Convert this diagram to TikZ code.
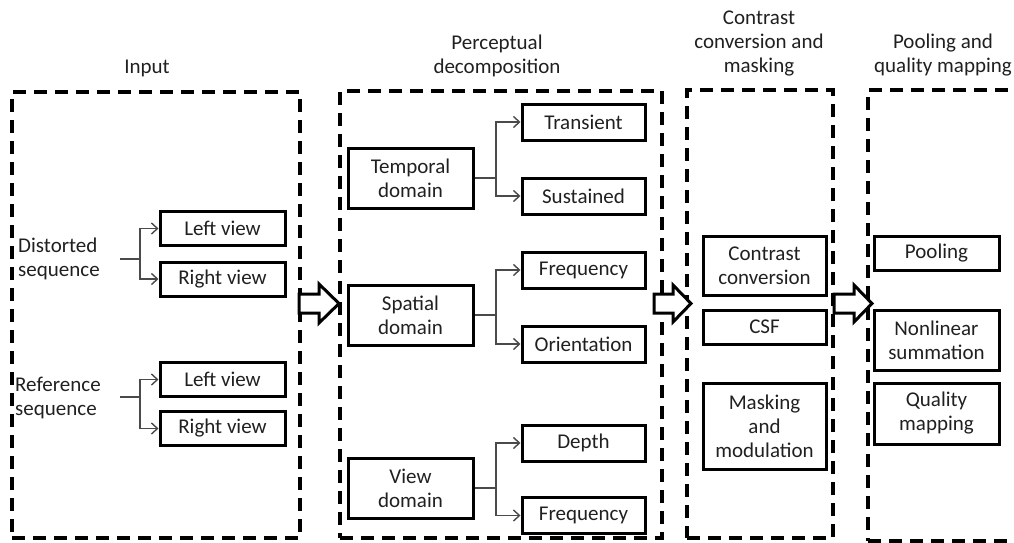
\documentclass[tikz,border=0pt]{standalone}
\usepackage{fontspec}
\setmainfont{Carlito}
\usetikzlibrary{arrows.meta}
\definecolor{txt}{HTML}{202020}
\definecolor{lnk}{HTML}{4a4a4a}
\tikzset{
  bx/.style={draw=black, line width=3pt, rectangle, inner sep=0pt, align=center, text=txt},
  grp/.style={draw=black, line width=3.4pt, dash pattern=on 13pt off 8pt, rectangle, inner sep=0pt},
  ttl/.style={align=center, text=txt, inner sep=0pt},
  lbl/.style={align=left, text=txt, inner sep=0pt},
  conn/.style={draw=lnk, line width=1.4pt},
  cona/.style={conn, -{Straight Barb[length=6pt,width=11pt,line width=1.4pt]}},
  blockarrow/.style={draw=black, line width=3pt, fill=white, line join=miter}
}
\begin{document}
\begin{tikzpicture}[x=1pt,y=-1pt, font=\fontsize{21}{24}\selectfont]
\useasboundingbox (0,0) rectangle (1014,543);
% group frames
\node[grp, minimum width=288, minimum height=446] (g1) at (156,315) {};
\node[grp, minimum width=322, minimum height=447] (g2) at (501,314.5) {};
\node[grp, minimum width=146, minimum height=448] (g3) at (760,314) {};
\node[grp, minimum width=170, minimum height=451] (g4) at (953,315.5) {};
% titles
\node[ttl] (t1) at (147,68) {Input};
\node[ttl] (t2) at (497,56) {Perceptual\\decomposition};
\node[ttl] (t3) at (759,43) {Contrast\\conversion and\\masking};
\node[ttl] (t4) at (943,55) {Pooling and\\quality mapping};
% input
\node[lbl, anchor=west] (dist) at (18,259) {Distorted\\sequence};
\node[lbl, anchor=west] (refs) at (15,398) {Reference\\sequence};
\node[bx, minimum width=125, minimum height=34] (lv1) at (222.5,228.5) {Left view};
\node[bx, minimum width=125, minimum height=34] (rv1) at (222.5,279) {Right view};
\node[bx, minimum width=125, minimum height=34] (lv2) at (222.5,379.5) {Left view};
\node[bx, minimum width=125, minimum height=34] (rv2) at (222.5,428.5) {Right view};
\coordinate (ds) at (120,259);
\coordinate (rs) at (120,397);
\draw[conn] (ds) -- ++(20,0) coordinate (dsj);
\draw[cona] (dsj) |- (lv1.west);
\draw[cona] (dsj) |- (rv1.west);
\draw[conn] (rs) -- ++(20,0) coordinate (rsj);
\draw[cona] (rsj) |- (lv2.west);
\draw[cona] (rsj) |- (rv2.west);
% perceptual decomposition
\node[bx, minimum width=125, minimum height=60] (tem) at (410.5,178) {Temporal\\domain};
\node[bx, minimum width=125, minimum height=60] (spa) at (410.5,315) {Spatial\\domain};
\node[bx, minimum width=125, minimum height=60] (vie) at (410.5,488) {View\\domain};
\node[bx, minimum width=123, minimum height=36] (tra) at (583.5,122) {Transient};
\node[bx, minimum width=123, minimum height=36] (sus) at (583.5,196) {Sustained};
\node[bx, minimum width=123, minimum height=36] (fr1) at (583.5,270) {Frequency};
\node[bx, minimum width=123, minimum height=36] (ori) at (583.5,344) {Orientation};
\node[bx, minimum width=123, minimum height=36] (dep) at (583.5,443) {Depth};
\node[bx, minimum width=123, minimum height=36] (fr2) at (583.5,515.5) {Frequency};
\draw[conn] (tem.east) -- (496,178) coordinate (tj);
\draw[cona] (tj) |- (tra.west);
\draw[cona] (tj) |- (sus.west);
\draw[conn] (spa.east) -- (496,315) coordinate (sj);
\draw[cona] (sj) |- (fr1.west);
\draw[cona] (sj) |- (ori.west);
\draw[conn] (vie.east) -- (496,488) coordinate (vj);
\draw[cona] (vj) |- (dep.west);
\draw[cona] (vj) |- (fr2.west);
% contrast conversion and masking
\node[bx, minimum width=123, minimum height=59] (cc) at (764.5,265.5) {Contrast\\conversion};
\node[bx, minimum width=123, minimum height=34] (csf) at (764.5,327) {CSF};
\node[bx, minimum width=123, minimum height=86] (mm) at (764.5,426) {Masking\\and\\modulation};
% pooling
\node[bx, minimum width=125, minimum height=34] (poo) at (936.5,253) {Pooling};
\node[bx, minimum width=125, minimum height=60] (nls) at (936.5,340) {Nonlinear\\summation};
\node[bx, minimum width=125, minimum height=61] (qm) at (936.5,413.5) {Quality\\mapping};
% block arrows
\draw[blockarrow] (299,294) -- (319,294) -- (319,284) -- (339,303.5) -- (319,323) -- (319,313) -- (299,313) -- cycle;
\draw[blockarrow] (654,294) -- (673,294) -- (673,285) -- (691,303.5) -- (673,322) -- (673,313) -- (654,313) -- cycle;
\draw[blockarrow] (834,294) -- (854,294) -- (854,285) -- (872,303.5) -- (854,322) -- (854,313) -- (834,313) -- cycle;
\end{tikzpicture}
\end{document}
